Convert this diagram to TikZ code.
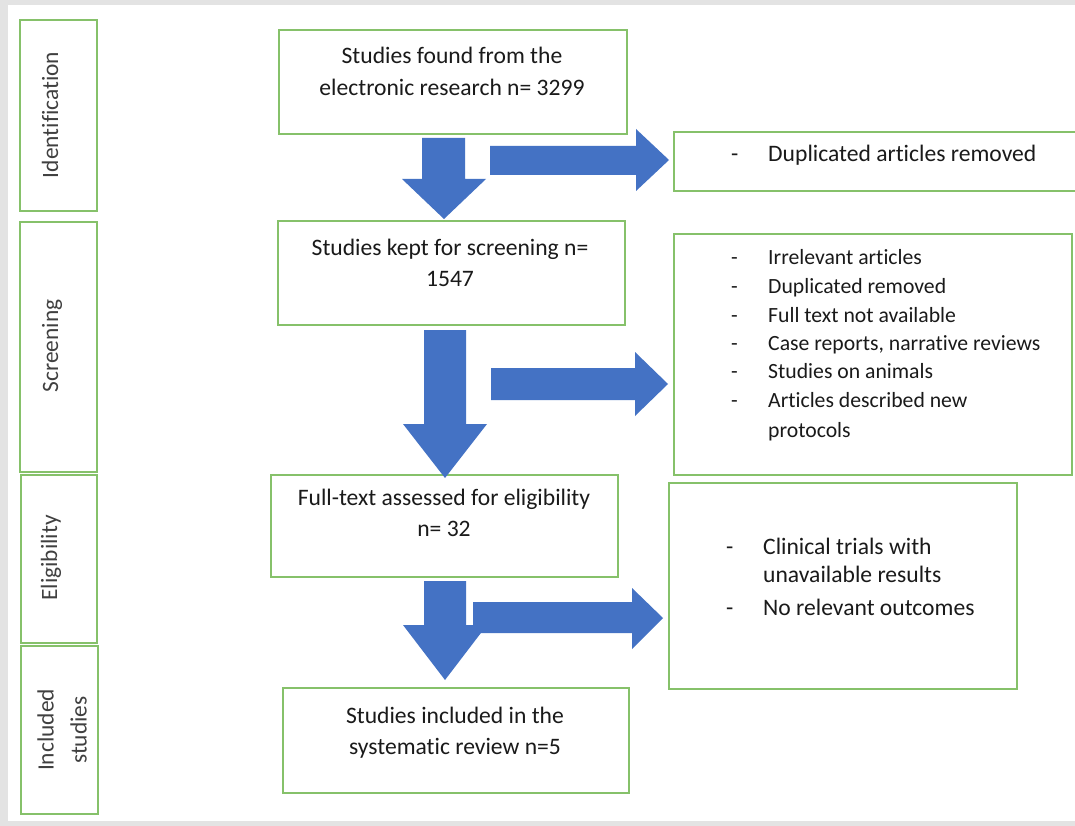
\documentclass[tikz,border=0pt]{standalone}
\usepackage{fontspec}
\setmainfont{Carlito}[Ligatures=CommonOff]
\definecolor{bggray}{HTML}{E3E3E3}
\definecolor{boxgreen}{HTML}{86C16A}
\definecolor{arrowblue}{HTML}{4472C4}
\definecolor{txt}{HTML}{1A1A1A}
\definecolor{sidetxt}{HTML}{404040}
\tikzset{
  x=1pt, y=-1pt,
  box/.style={draw=boxgreen, line width=1.8pt, fill=white},
  blockarrow/.style={fill=arrowblue, draw=none},
  maintext/.style={font=\fontsize{23.6}{31}\selectfont, text=txt, anchor=base, inner sep=0pt},
  listtext/.style={font=\fontsize{23.6}{28}\selectfont, text=txt, anchor=base west, inner sep=0pt},
  smalllist/.style={listtext, font=\fontsize{21.7}{28}\selectfont},
  sidetext/.style={font=\fontsize{23.4}{33}\selectfont, text=sidetxt, rotate=90, inner sep=0pt, align=center}
}
\begin{document}
\begin{tikzpicture}
\useasboundingbox (0,0) rectangle (1075,826);
\fill[bggray] (0,0) rectangle (1075,826);
\fill[white] (8,5) rectangle (1075,821);

% side boxes
\draw[box] (20,20) rectangle (97,211);
\draw[box] (20,222) rectangle (97,472);
\draw[box] (21,475) rectangle (97,643);
\draw[box] (21,646) rectangle (98,814);
\node[sidetext] (lid) at (50,115) {Identification};
\node[sidetext] (lsc) at (52,346) {Screening};
\node[sidetext] (lel) at (51,558) {Eligibility};
\node[sidetext] (lin) at (62,730) {Included\\studies};

% main boxes
\node[box, anchor=north west, minimum width=348pt, minimum height=104pt] (b1) at (278,29) {};
\node[box, anchor=north west, minimum width=347pt, minimum height=104pt] (b2) at (277,220) {};
\node[box, anchor=north west, minimum width=347pt, minimum height=102pt] (b3) at (270,474) {};
\node[box, anchor=north west, minimum width=346pt, minimum height=105pt] (b4) at (282,687) {};

\node[maintext] (t1a) at (452,64) {Studies found from the};
\node[maintext] (t1b) at (452,96) {electronic research n= 3299};
\node[maintext] (t2a) at (450,255) {Studies kept for screening n=};
\node[maintext] (t2b) at (450,286) {1547};
\node[maintext] (t3a) at (444,505) {Full-text assessed for eligibility};
\node[maintext] (t3b) at (444,536) {n= 32};
\node[maintext] (t4a) at (455,723) {Studies included in the};
\node[maintext] (t4b) at (455,754) {systematic review n=5};

% right boxes
\node[box, anchor=north west, minimum width=410pt, minimum height=59pt] (r1) at (673,131) {};
\node[box, anchor=north west, minimum width=398pt, minimum height=241pt] (r2) at (673,233) {};
\node[box, anchor=north west, minimum width=348pt, minimum height=206pt] (r3) at (668,482) {};

\node[listtext] (d1) at (731,162) {-};
\node[listtext] (e1) at (768,162) {Duplicated articles removed};

\foreach \yy/\tt [count=\i] in {264/Irrelevant articles, 293/Duplicated removed, 322/Full text not available, 350/{Case reports, narrative reviews}, 378/Studies on animals, 407/Articles described new}{
  \node[smalllist] (dd\i) at (731,\yy) {-};
  \node[smalllist] (ee\i) at (768,\yy) {\tt};
}
\node[smalllist] (ee7) at (768,437) {protocols};

\node[listtext] (f1) at (726,554) {-};
\node[listtext] (g1) at (763,554) {Clinical trials with};
\node[listtext] (g1b) at (763,582) {unavailable results};
\node[listtext] (f2) at (726,615) {-};
\node[listtext] (g2) at (763,615) {No relevant outcomes};

% block arrows
\fill[blockarrow] (422,138) -- (465,138) -- (465,179) -- (486,179) -- (444,219) -- (402,179) -- (422,179) -- cycle;
\fill[blockarrow] (490,146) -- (636,146) -- (636,129) -- (669,160) -- (636,191) -- (636,175) -- (490,175) -- cycle;

\fill[blockarrow] (424,330) -- (466,330) -- (466,424) -- (487,424) -- (445,478) -- (403,424) -- (424,424) -- cycle;
\fill[blockarrow] (491,368) -- (635,368) -- (635,352) -- (668,384) -- (635,416) -- (635,400) -- (491,400) -- cycle;

\fill[blockarrow] (424,581) -- (466,581) -- (466,625) -- (487,625) -- (445,680) -- (403,625) -- (424,625) -- cycle;
\fill[blockarrow] (473,602) -- (632,602) -- (632,588) -- (663,618) -- (632,649) -- (632,633) -- (473,633) -- cycle;
\end{tikzpicture}
\end{document}
